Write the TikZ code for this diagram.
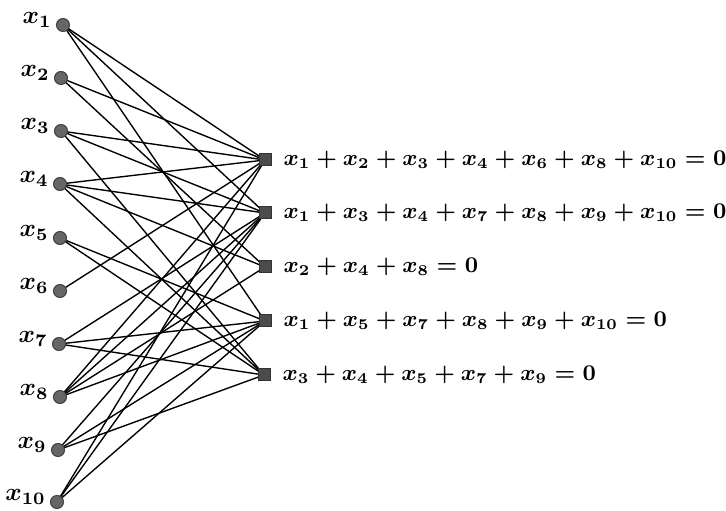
\documentclass[tikz,border=0pt]{standalone}
\usetikzlibrary{backgrounds}
\begin{document}
\begin{tikzpicture}[x=0.4pt,y=-0.4pt,
  var/.style={circle,fill=black!60,draw=black!75,line width=0.4pt,inner sep=0pt,minimum size=5.2pt},
  chk/.style={rectangle,fill=black!70,draw=black!80,line width=0.4pt,inner sep=0pt,minimum size=4.8pt},
  vlab/.style={label={[anchor=east,xshift=-0.5pt,yshift=2pt,font=\boldmath,inner sep=1pt]left:#1}},
  eqn/.style={anchor=west,font=\fontsize{8.85}{11}\selectfont\boldmath,inner sep=0pt},
  edge/.style={line width=0.55pt,black}]
\useasboundingbox (0,0) rectangle (726,511);
\node[var,vlab={$x_{1}$}] (x1) at (63,25) {};
\node[var,vlab={$x_{2}$}] (x2) at (61,78) {};
\node[var,vlab={$x_{3}$}] (x3) at (61,131) {};
\node[var,vlab={$x_{4}$}] (x4) at (60,184) {};
\node[var,vlab={$x_{5}$}] (x5) at (60,238) {};
\node[var,vlab={$x_{6}$}] (x6) at (60,291) {};
\node[var,vlab={$x_{7}$}] (x7) at (59,344) {};
\node[var,vlab={$x_{8}$}] (x8) at (60,397) {};
\node[var,vlab={$x_{9}$}] (x9) at (58,450) {};
\node[var,vlab={$x_{10}$}] (x10) at (57,502) {};
\node[chk] (c1) at (265,160) {};
\node[chk] (c2) at (265,213) {};
\node[chk] (c3) at (265,267) {};
\node[chk] (c4) at (265,321) {};
\node[chk] (c5) at (264,375) {};
\node[eqn] (e1) at (283,160) {$x_1+x_2+x_3+x_4+x_6+x_8+x_{10}=0$};
\node[eqn] (e2) at (283,213) {$x_1+x_3+x_4+x_7+x_8+x_9+x_{10}=0$};
\node[eqn] (e3) at (283,267) {$x_2+x_4+x_8=0$};
\node[eqn] (e4) at (283,321) {$x_1+x_5+x_7+x_8+x_9+x_{10}=0$};
\node[eqn] (e5) at (282,375) {$x_3+x_4+x_5+x_7+x_9=0$};
\begin{scope}[on background layer]
\foreach \v in {1,2,3,4,6,8,10} \draw[edge] (x\v.center) -- (c1.center);
\foreach \v in {1,3,4,7,8,9,10} \draw[edge] (x\v.center) -- (c2.center);
\foreach \v in {2,4,8} \draw[edge] (x\v.center) -- (c3.center);
\foreach \v in {1,5,7,8,9,10} \draw[edge] (x\v.center) -- (c4.center);
\foreach \v in {3,4,5,7,9} \draw[edge] (x\v.center) -- (c5.center);
\end{scope}
\end{tikzpicture}
\end{document}
